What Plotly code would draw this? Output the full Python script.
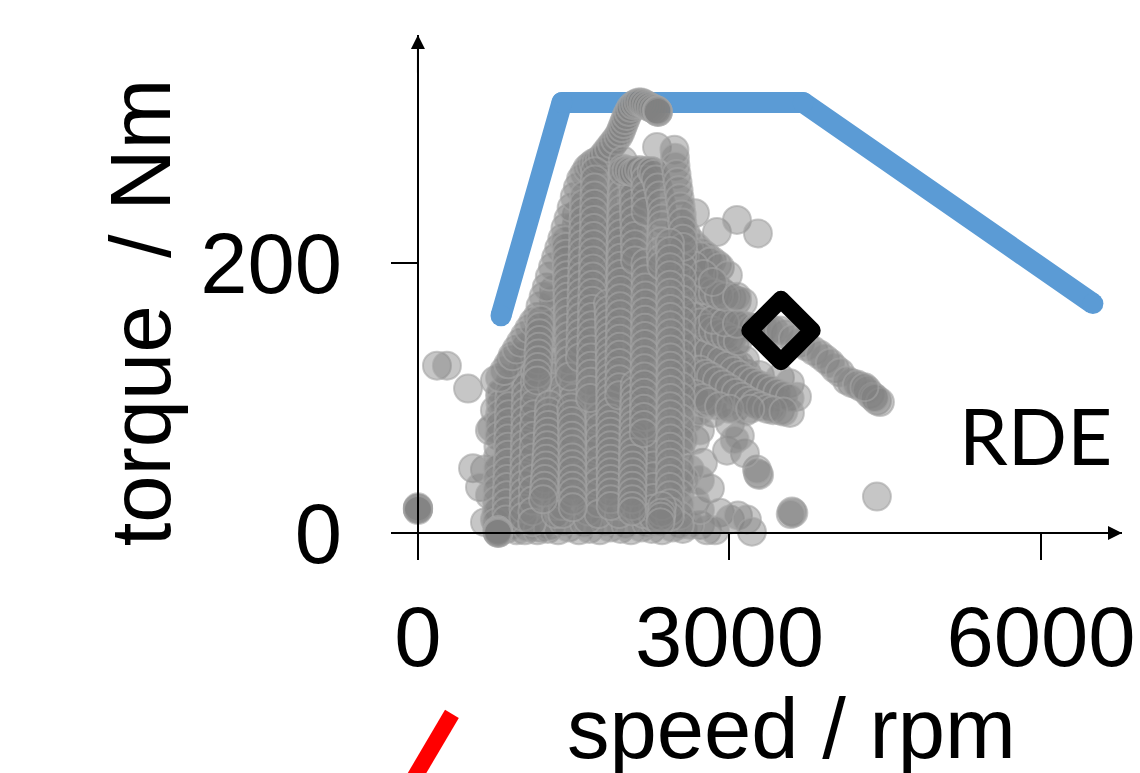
import plotly.graph_objects as go

limit_speed = [800, 1387, 3708, 6500]
limit_torque = [161, 319, 319, 170]
operating_speed = [3496]
operating_torque = [150]
red_speed = [327, -125]
red_torque = [-134, -193]
x_ticks = [0, 3000, 6000]
y_ticks = [0, 200]

rise = [(790,115),(830,120),(870,125),(910,131),(950,136),(990,141),(1030,146),(1070,151),(1110,156),(1150,160),(1180,168),(1210,175),(1240,182),(1270,190),(1300,197),(1330,204),(1360,211),(1390,218),(1420,226),(1450,233),(1480,241),(1510,249),(1540,256),(1570,262),(1600,266),(1630,270),(1660,272),(1690,274),(1720,275),(1750,276),(1780,279),(1810,282),(1840,285),(1870,288),(1900,291),(1930,294),(1950,297),(1965,300),(1980,303),(1995,306),(2010,309),(2030,312),(2050,315),(2075,317),(2100,318),(2125,319),(2150,319),(2175,318),(2200,317),(2225,316),(2250,315),(2275,314),(2300,313),(2311,312),(2311,312),(2305,313)]
col_1175 = [(1180,158),(1175,153),(1170,148),(1170,143),(1165,138),(1160,133),(1160,128),(1155,123),(1150,118),(1150,113)]
col_1240 = [(1265,95),(1260,90),(1258,85),(1255,80),(1250,75),(1248,70),(1245,65),(1240,60),(1236,55),(1232,50),(1228,45),(1222,40),(1218,35),(1212,30),(1205,25)]
col_1435 = [(1420,217),(1425,212),(1428,207),(1430,202),(1432,196),(1435,191),(1436,186),(1438,180),(1440,175),(1442,170),(1445,164),(1446,158),(1448,152),(1450,146),(1452,140),(1455,134),(1456,128),(1458,122),(1460,116)]
col_1483 = [(1475,93),(1478,88),(1480,83),(1482,78),(1484,72),(1485,67),(1486,62),(1486,56),(1487,51),(1488,46),(1488,40),(1489,35),(1490,30),(1490,24),(1491,19)]
col_1589 = [(1600,250),(1598,244),(1596,238),(1594,232),(1592,226),(1590,220),(1588,214),(1586,208),(1584,202),(1582,196),(1580,190),(1578,184),(1576,178),(1574,172),(1572,166),(1570,160),(1568,154),(1566,148),(1564,142),(1562,136),(1560,130)]
col_1700 = [(1705,268),(1704,262),(1702,256),(1700,250),(1698,244),(1696,238),(1695,232),(1694,226),(1692,220),(1690,214),(1688,208),(1686,202),(1685,196),(1684,190),(1682,184),(1680,178),(1678,172),(1676,166),(1675,160),(1674,154),(1672,148),(1670,142),(1668,136),(1666,130),(1665,124),(1664,118),(1662,112),(1660,106),(1658,100)]
col_1849 = [(1830,170),(1835,165),(1838,160),(1840,155),(1842,150),(1844,145),(1845,140),(1846,135),(1847,130),(1848,125),(1849,120),(1849,115),(1850,110),(1850,105),(1851,100),(1851,95),(1852,90),(1852,85),(1852,80),(1853,75),(1853,70),(1853,65),(1854,60),(1854,55),(1854,50),(1855,45),(1855,40),(1855,35),(1856,30),(1856,25),(1856,20)]
col_1974 = [(1974,276),(1972,270),(1970,264),(1968,258),(1966,252),(1964,246),(1962,240),(1960,234),(1958,228),(1956,222),(1955,216),(1954,210),(1953,204),(1952,198),(1951,192),(1950,186),(1949,180),(1948,174),(1947,168),(1946,162),(1945,156),(1944,150),(1943,144),(1942,138),(1941,132),(1940,126),(1940,120),(1939,114),(1938,108),(1938,102)]
col_2070 = [(2070,268),(2072,262),(2074,256),(2076,250),(2078,244),(2080,238),(2082,232),(2084,226),(2086,220),(2088,214),(2090,208),(2090,202),(2088,110),(2086,105),(2084,100),(2082,95),(2080,90),(2078,85),(2076,80),(2075,75),(2074,70),(2072,65),(2071,60),(2070,55),(2069,50),(2068,45),(2067,40),(2066,35),(2065,30),(2064,25),(2063,20),(2062,16)]
col_2186 = [(2186,268),(2188,262),(2190,256),(2190,250),(2192,244),(2192,238),(2190,200),(2192,194),(2192,188),(2190,182),(2190,176),(2189,170),(2188,164),(2187,158),(2186,152),(2185,146),(2184,140),(2183,134),(2182,128),(2181,122),(2180,116),(2179,110),(2178,104),(2177,98),(2176,92),(2175,86),(2174,80),(2173,74)]
col_2350 = [(2250,268),(2270,266),(2290,262),(2310,256),(2325,250),(2340,244),(2350,238),(2350,233),(2348,228),(2345,222),(2342,216),(2338,209),(2340,203),(2345,198)]
col_2430 = [(2427,215),(2428,209),(2428,203),(2427,197),(2427,191),(2428,184),(2428,178),(2429,172),(2430,166),(2430,160),(2430,154),(2431,148),(2431,142),(2431,136),(2432,130),(2432,124),(2431,118),(2431,112),(2430,106),(2430,100),(2430,94),(2430,88),(2429,82),(2429,76),(2429,70),(2428,64),(2428,58),(2428,52),(2428,46),(2427,40),(2427,34),(2427,28),(2426,22),(2426,16),(2426,12),(2350,20),(2345,15),(2340,12),(2335,8)]
col_2500 = [(2470,284),(2475,278),(2480,272),(2490,266),(2500,260),(2510,254),(2520,248),(2530,242),(2540,236),(2545,230),(2550,224),(2552,218),(2552,212)]
plateau = [(1974,268),(2010,269),(2040,268),(2070,267),(2100,268),(2130,269),(2160,267),(2190,268),(2220,267),(2250,268)]
left_scatter = [(741,113),(790,102),(741,91),(838,95),(693,76),(713,78),(790,76),(982,80),(934,106),(1079,113),(1127,98),(982,91),(645,47),(530,48),(597,34),(693,28),(790,47),(886,61),(982,54),(1127,61),(790,17),(645,8),(741,10),(886,6),(1030,2),(838,32),(982,28),(1079,36),(1175,24),(1271,6),(1175,4),(934,13),(1100,135),(1010,120),(900,128),(1060,88),(1130,76),(880,84),(1340,118),(1360,75),(1380,45),(1340,22),(1600,100),(1560,85),(1620,60),(1610,30),(1740,75),(1700,45),(1680,20)]
fill_800 = [(800,104),(795,96),(790,88),(785,80),(780,72),(775,64),(770,56),(768,48),(765,40),(762,32),(760,24),(758,16),(756,8)]
fill_900 = [(890,112),(885,106),(880,100),(878,94),(876,88),(874,82),(872,76),(870,70),(868,64),(866,58),(864,52),(862,46),(860,40),(858,34),(856,28),(854,22),(852,16),(850,10)]
fill_1050 = [(1050,138),(1048,132),(1046,126),(1045,120),(1044,114),(1042,108),(1040,102),(1038,96),(1036,90),(1035,84),(1034,78),(1032,72),(1030,66),(1028,60),(1026,54),(1025,48),(1024,42),(1022,36),(1020,30),(1018,24),(1016,18),(1015,12)]
fill_1120 = [(1135,145),(1132,136),(1130,128),(1128,120),(1126,112),(1124,104),(1122,96),(1120,88),(1118,80),(1116,72),(1114,64),(1112,56),(1110,48),(1108,40),(1106,32),(1104,24),(1102,16),(1100,8)]
fill_1300 = [(1310,180),(1308,172),(1306,164),(1304,156),(1302,148),(1300,140),(1298,132),(1296,124),(1294,116),(1292,108),(1350,100),(1348,94),(1346,88),(1345,82),(1344,76),(1342,70),(1340,64),(1338,58),(1336,52),(1335,46),(1334,40),(1332,34),(1330,28),(1328,20),(1326,14)]
fill_1400 = [(1405,108),(1403,100),(1401,92),(1400,84),(1399,76),(1398,68),(1397,60),(1396,52),(1395,44),(1394,36),(1393,28),(1392,20),(1391,14)]
fill_1530 = [(1530,236),(1528,228),(1526,220),(1524,212),(1522,204),(1520,196),(1518,188),(1516,180),(1514,172),(1512,164),(1510,156),(1508,148),(1506,140),(1504,132),(1502,124),(1500,116),(1498,108),(1496,100)]
fill_1660 = [(1660,94),(1658,88),(1656,82),(1655,76),(1654,70),(1652,64),(1650,58),(1648,52),(1646,46),(1645,40),(1644,34),(1642,28),(1640,22),(1638,16),(1636,10)]
fill_1760 = [(1780,262),(1778,254),(1776,246),(1774,238),(1772,230),(1770,222),(1768,214),(1766,206),(1764,198),(1762,190),(1760,182),(1758,174),(1756,166),(1754,158),(1752,150),(1750,142),(1748,134),(1746,126),(1744,118),(1742,110),(1750,102),(1749,94),(1748,86),(1747,78),(1746,70),(1745,62),(1744,54),(1743,46),(1742,38),(1741,30),(1740,22),(1739,14)]
fill_1960 = [(1960,98),(1958,92),(1956,86),(1955,80),(1954,74),(1952,68),(1950,62),(1948,56),(1946,50),(1945,44),(1944,38),(1942,32),(1940,26),(1938,20),(1936,14)]
fill_1880 = [(1880,230),(1878,222),(1876,214),(1874,206),(1872,198),(1870,190),(1868,182),(1866,176)]
fill_2010 = [(2015,235),(2013,227),(2011,219),(2010,211),(2009,203),(2008,195),(2007,187),(2006,179),(2005,171),(2004,163),(2003,155),(2002,147),(2001,139),(2000,131),(1999,123),(1998,115),(1997,107)]
fill_2130 = [(2130,262),(2128,252),(2126,242),(2124,232),(2122,222),(2120,212),(2118,202),(2116,192),(2114,182),(2112,172),(2110,162),(2108,152),(2106,142),(2104,132),(2102,122),(2132,112),(2131,104),(2130,96),(2129,88),(2128,80),(2127,72),(2126,64),(2125,56),(2124,48),(2123,40),(2122,32),(2121,24),(2120,16)]
fill_2190 = [(2190,68),(2189,62),(2188,56),(2186,50),(2185,44),(2184,38),(2182,32),(2180,26),(2178,20),(2176,14)]
fill_2290 = [(2295,194),(2293,186),(2291,178),(2290,170),(2289,162),(2288,154),(2286,146),(2285,138),(2284,130),(2282,122),(2281,114),(2280,106),(2279,98),(2278,90),(2276,82),(2275,74),(2274,66),(2272,58),(2271,50),(2270,42),(2269,34),(2268,26),(2266,18),(2265,12)]
fill_2540 = [(2545,205),(2544,197),(2543,189),(2542,181),(2541,173),(2540,165),(2539,157),(2538,149),(2537,141),(2536,133),(2535,125),(2534,117),(2533,109),(2532,101),(2531,93),(2530,85),(2529,77),(2528,69),(2527,61),(2526,53),(2525,45),(2524,37),(2523,29),(2522,21),(2521,13),(2520,6)]
fan_fill = [(2620,195),(2660,180),(2700,195),(2740,170),(2780,188),(2640,170),(2690,162),(2750,158),(2800,172),(2850,168),(2900,160),(2620,145),(2660,150),(2740,128),(2790,122),(2830,125),(2900,120),(2950,115),(2620,130),(2660,118),(2700,126),(2760,108),(2800,110),(2880,106),(2640,100),(2680,108),(2760,96),(2600,120),(2610,175),(2950,150),(3000,145),(3050,140),(3000,120),(3060,108),(3110,100),(3150,128),(3200,110)]
fan_b1 = [(2620,200),(2670,196),(2720,192),(2770,189),(2820,185),(2870,182),(2920,179),(2970,176),(3020,174),(3070,172),(3130,171)]
fan_b2 = [(2530,228),(2580,222),(2630,216),(2680,212),(2730,208),(2780,205),(2830,202),(2880,199)]
fan_b3 = [(2716,165),(2770,163),(2820,161),(2870,159),(2920,158),(2970,157),(3020,156),(3120,154),(3170,153),(3220,152)]
fan_b4 = [(2620,146),(2680,142),(2740,138),(2800,135),(2860,132),(2920,128),(2980,124),(3040,120),(3100,117),(3160,114),(3220,112),(3280,110),(3340,108),(3400,106),(3460,104),(3520,102),(3580,100)]
fan_b5 = [(2716,121),(2770,118),(2820,116),(2880,113),(2940,110),(3000,107),(3060,104),(3120,101),(3180,98),(3240,96),(3300,94),(3360,92),(3420,91),(3520,90)]
fan_b6 = [(2668,103),(2740,100),(2800,97),(2900,94),(3000,92),(3200,92)]
fan_b7 = [(2600,165),(2660,160),(2720,156),(2780,152),(2840,150),(2900,148),(2960,146),(3020,144),(3080,142)]
fan_b8 = [(3540,147),(3680,141),(3810,135),(3920,129),(4015,122),(4180,111),(4270,108),(4350,103),(4420,98),(3430,150),(3330,151)]
idle = [(770,1),(772,1),(768,2),(775,0),(770,2),(765,1),(773,1),(770,0)]
zero_speed = [(0,18),(0,18),(2,18),(-2,18),(0,19),(0,17)]
bottom = [(850,3),(950,2),(1050,4),(1150,2),(1250,3),(1350,2),(1450,4),(1550,2),(1650,3),(1750,2),(1850,4),(1950,3),(2050,2),(2150,4),(2250,3),(2350,2),(2450,4),(2550,3),(1400,8),(1600,7),(1800,8),(2000,6),(2200,7),(2300,12),(2280,8)]
fan_top = [(2523,215),(2619,209),(2716,205),(2812,201),(2908,197),(2985,191),(2523,195),(2600,190),(2680,184),(2760,180),(2840,178),(2900,176),(2960,175),(3072,175),(2570,205),(2660,198),(2750,192),(2840,186)]
fan_long = [(2841,158),(2956,156),(3072,155),(3264,152),(3390,150),(3486,150),(3611,144),(3746,138),(3871,132),(3968,126),(4064,119),(4131,113),(4228,110),(4324,106),(4382,101),(4449,97),(4400,100),(4300,108)]
fan_mid = [(2716,138),(2860,134),(3005,128),(3168,118),(3293,117),(3486,115),(3582,111),(3650,101),(2620,158),(2700,152),(2780,146),(2860,140),(2950,132),(3040,126),(3100,124),(2687,121),(2860,115),(3005,111),(3149,104),(3264,96),(3390,94),(3486,91),(3582,89),(2716,106),(2850,100),(2950,96),(3050,92),(3150,90),(2716,172),(2812,165),(2716,150),(2523,143),(2523,128),(2668,135),(2620,113),(3250,110),(3350,104),(3450,100),(3100,112)]
fan_low = [(2668,69),(2716,39),(2620,47),(2668,24),(2716,76),(2620,84),(2560,100),(2560,70),(2570,40),(2716,6),(2783,2),(2908,15),(3005,10),(3082,13),(3168,10),(3216,1),(2860,2),(2620,6),(2716,17)]
singles = [(183,124),(279,124),(482,107),(2302,286),(2668,237),(2879,223),(3072,232),(3274,222),(4420,27),(3602,16),(3615,15),(3590,14),(3274,44),(3285,43),(3265,47),(3149,59),(2976,61),(3005,81),(2841,89),(2716,91),(2745,52),(2812,33),(3100,72),(3050,69)]

groups = [singles, zero_speed, left_scatter, bottom, fan_low, fan_mid, fan_fill, fan_b1, fan_b2, fan_b3, fan_b4, fan_b5, fan_b6, fan_b7, fan_b8, fan_long, fan_top, fill_800, fill_900, fill_1050, fill_1120, fill_1300, fill_1400, fill_1530, fill_1660, fill_1760, fill_1880, fill_1960, fill_2010, fill_2130, fill_2190, fill_2290, fill_2540, rise, col_1175, col_1240, col_1435, col_1483, col_1589, col_1700, col_1849, col_1974, col_2070, plateau, col_2186, col_2350, col_2500, col_2430, idle]
rec_speed = [p[0] for g in groups for p in g]
rec_torque = [p[1] for g in groups for p in g]

X_RANGE = [-250, 6780]
Y_RANGE = [-20, 369]
def x_frac(v):
    return (v - X_RANGE[0]) / (X_RANGE[1] - X_RANGE[0])
def y_frac(v):
    return (v - Y_RANGE[0]) / (Y_RANGE[1] - Y_RANGE[0])

BLUE = "#5b9bd5"
FONT = "Liberation Sans, Arial, sans-serif"
fig = go.Figure()
fig.add_trace(go.Scatter(x=limit_speed, y=limit_torque, mode="lines+markers",
    line=dict(color=BLUE, width=21), marker=dict(color=BLUE, size=21, opacity=1, line=dict(width=0)),
    cliponaxis=False, hoverinfo="skip"))
fig.add_trace(go.Scatter(x=rec_speed, y=rec_torque, mode="markers",
    marker=dict(size=28, color="rgba(128,128,128,0.45)", line=dict(color="rgba(165,165,165,0.6)", width=2)),
    cliponaxis=False, hoverinfo="skip"))
fig.add_trace(go.Scatter(x=operating_speed, y=operating_torque, mode="markers",
    marker=dict(symbol="diamond-open", size=48, color="black", line=dict(color="black", width=17)),
    cliponaxis=False, hoverinfo="skip"))

axis_common = dict(showgrid=False, zeroline=False, showline=True, linecolor="black", linewidth=2,
                   ticks="outside", tickcolor="black", tickwidth=1.5, ticklen=26,
                   tickfont=dict(family=FONT, size=85, color="black"), automargin=False)
fig.update_layout(
    width=1140, height=773, autosize=False, showlegend=False,
    margin=dict(l=392, r=18, t=35, b=213, pad=0),
    paper_bgcolor="white", plot_bgcolor="white",
    xaxis=dict(range=X_RANGE, anchor="free", position=27/525, tickvals=x_ticks, ticklabelstandoff=4, **axis_common),
    yaxis=dict(range=Y_RANGE, anchor="free", position=26/730, tickvals=y_ticks, ticklabelstandoff=32, **axis_common),
    shapes=[dict(type="line", xref="paper", yref="paper", layer="above",
                 x0=x_frac(red_speed[0]), y0=y_frac(red_torque[0]), x1=x_frac(red_speed[1]), y1=y_frac(red_torque[1]),
                 line=dict(color="#ff0000", width=16))],
    annotations=[
        dict(text="speed / rpm", xref="paper", yref="paper", x=0.5466, y=-0.32, showarrow=False,
             xanchor="center", yanchor="middle", font=dict(family=FONT, size=85, color="black")),
        dict(text="torque\u00a0\u00a0/ Nm", xref="paper", yref="paper", x=-0.345, y=0.472, showarrow=False, textangle=-90,
             xanchor="center", yanchor="middle", font=dict(family=FONT, size=85, color="black")),
        dict(text="RDE", xref="paper", yref="paper", x=0.881, y=0.238, showarrow=False,
             xanchor="center", yanchor="middle", font=dict(family="Lato, sans-serif", size=78, color="black")),
        dict(x=6780, y=0, ax=6600, ay=0, xref="x", yref="y", axref="x", ayref="y", text="",
             showarrow=True, arrowhead=2, arrowsize=1.4, arrowwidth=2, arrowcolor="black"),
        dict(x=0, y=369, ax=0, ay=340, xref="x", yref="y", axref="x", ayref="y", text="",
             showarrow=True, arrowhead=2, arrowsize=1.4, arrowwidth=2, arrowcolor="black"),
    ],
)
fig.write_html("out.html", config={"displayModeBar": False},
    post_script="document.body.style.margin='0';document.head.insertAdjacentHTML('beforeend','<style>.scatterlayer path{stroke-linejoin:round !important}</style>');")
